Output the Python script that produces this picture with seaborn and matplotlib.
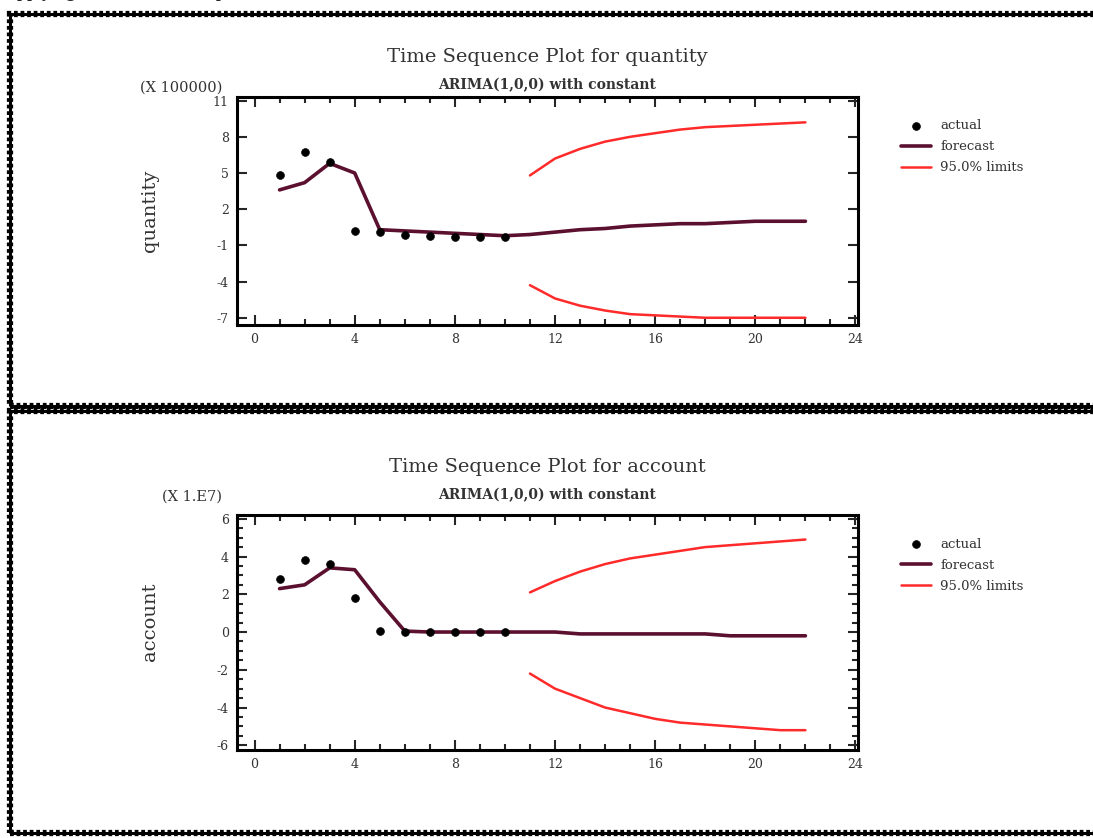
import matplotlib
matplotlib.use("Agg")
import matplotlib.pyplot as plt
from matplotlib.patches import Rectangle
from matplotlib.ticker import MultipleLocator
import seaborn as sns
import numpy as np
import pandas as pd

# quantity panel (units of 100000)
q_t_actual = [1, 2, 3, 4, 5, 6, 7, 8, 9, 10]
q_actual = [4.8, 6.7, 5.9, 0.2, 0.1, -0.1, -0.2, -0.3, -0.3, -0.3]
q_t_fc = [1, 2, 3, 4, 5, 6, 7, 8, 9, 10, 11, 12, 13, 14, 15, 16, 17, 18, 19, 20, 21, 22]
q_fc = [3.6, 4.2, 5.8, 5.0, 0.3, 0.2, 0.1, 0.0, -0.1, -0.2, -0.1, 0.1, 0.3, 0.4, 0.6, 0.7, 0.8, 0.8, 0.9, 1.0, 1.0, 1.0]
q_t_lim = [11, 12, 13, 14, 15, 16, 17, 18, 19, 20, 21, 22]
q_upper = [4.8, 6.2, 7.0, 7.6, 8.0, 8.3, 8.6, 8.8, 8.9, 9.0, 9.1, 9.2]
q_lower = [-4.3, -5.4, -6.0, -6.4, -6.7, -6.8, -6.9, -7.0, -7.0, -7.0, -7.0, -7.0]

# account panel (units of 1E7)
a_t_actual = [1, 2, 3, 4, 5, 6, 7, 8, 9, 10]
a_actual = [2.8, 3.8, 3.6, 1.8, 0.05, 0.0, 0.0, 0.0, 0.0, 0.0]
a_t_fc = [1, 2, 3, 4, 5, 6, 7, 8, 9, 10, 11, 12, 13, 14, 15, 16, 17, 18, 19, 20, 21, 22]
a_fc = [2.3, 2.5, 3.4, 3.3, 1.6, 0.05, 0.0, 0.0, 0.0, 0.0, 0.0, 0.0, -0.1, -0.1, -0.1, -0.1, -0.1, -0.1, -0.2, -0.2, -0.2, -0.2]
a_t_lim = [11, 12, 13, 14, 15, 16, 17, 18, 19, 20, 21, 22]
a_upper = [2.1, 2.7, 3.2, 3.6, 3.9, 4.1, 4.3, 4.5, 4.6, 4.7, 4.8, 4.9]
a_lower = [-2.2, -3.0, -3.5, -4.0, -4.3, -4.6, -4.8, -4.9, -5.0, -5.1, -5.2, -5.2]

x_ticks = [0, 4, 8, 12, 16, 20, 24]

sns.set_style("ticks")
plt.rcParams['font.family'] = ['DejaVu Serif']
plt.rcParams['axes.unicode_minus'] = False

fc_color = "#5c1030"
lim_color = "#ff2a2a"
txt_color = "#333333"

fig = plt.figure(figsize=(10.93, 8.38), dpi=100)

# clipped heading from the page above (only the descenders show)
fig.text(0.004, 1.003, "Applying ARIMA model to predict the", fontsize=13,
         fontweight="bold", va="baseline", ha="left", family="Liberation Serif")

# dotted panel borders
for (y0, y1) in [(14, 406), (411, 833)]:
    for lw, ls in [(2.2, "-"), (4.5, (0, (0.6, 0.45)))]:
        fig.patches.append(Rectangle((10 / 1093, 1 - y1 / 838), 1.2, (y1 - y0) / 838,
                                     transform=fig.transFigure, fill=False,
                                     edgecolor="black", linewidth=lw, linestyle=ls))


def draw_panel(rect, t_act, act, t_fc, fc, t_lim, up, lo, ylim, yticks, yminor,
               title, mult, ylabel, title_y, sub_y, mult_y, ylabel_y):
    ax = fig.add_axes(rect)
    sns.lineplot(x=t_lim, y=up, ax=ax, color=lim_color, linewidth=1.8, label="95.0% limits")
    sns.lineplot(x=t_lim, y=lo, ax=ax, color=lim_color, linewidth=1.8)
    sns.lineplot(x=t_fc, y=fc, ax=ax, color=fc_color, linewidth=2.6, label="forecast")
    sns.scatterplot(x=t_act, y=act, ax=ax, color="black", s=32, edgecolor="black",
                    zorder=5, label="actual")
    ax.set_xlim(-0.7, 24.1)
    ax.set_ylim(*ylim)
    ax.set_xticks(x_ticks)
    ax.set_yticks(yticks)
    ax.xaxis.set_minor_locator(MultipleLocator(1))
    if yminor:
        ax.yaxis.set_minor_locator(MultipleLocator(yminor))
    ax.tick_params(which="both", direction="in", top=True, right=True, width=1.5,
                   labelsize=9, pad=6, labelcolor=txt_color)
    ax.tick_params(which="major", length=7)
    ax.tick_params(which="minor", length=4)
    for s in ax.spines.values():
        s.set_linewidth(2.2)
        s.set_color("black")
    ax.set_xlabel("")
    ax.set_ylabel("")
    h, l = ax.get_legend_handles_labels()
    order = [l.index("actual"), l.index("forecast"), l.index("95.0% limits")]
    ax.legend([h[i] for i in order], [l[i] for i in order], loc="upper left",
              bbox_to_anchor=(1.06, 0.925), frameon=False, fontsize=9.5,
              handlelength=2.3, handletextpad=0.7, labelspacing=0.6,
              borderaxespad=0, labelcolor=txt_color)
    cx = rect[0] + rect[2] / 2
    fig.text(cx, 1 - title_y / 838, title, ha="center", va="center", fontsize=14,
             color=txt_color)
    fig.text(cx, 1 - sub_y / 838, "ARIMA(1,0,0) with constant", ha="center",
             va="center", fontsize=10, fontweight="bold", color=txt_color)
    fig.text(222 / 1093, 1 - mult_y / 838, mult, ha="right", va="center",
             fontsize=10.5, color=txt_color)
    fig.text(150 / 1093, 1 - ylabel_y / 838, ylabel, ha="center", va="center",
             rotation=90, fontsize=14, color=txt_color)
    return ax


draw_panel([237 / 1093, 1 - 325 / 838, 621 / 1093, 228 / 838],
           q_t_actual, q_actual, q_t_fc, q_fc, q_t_lim, q_upper, q_lower,
           (-7.6, 11.3), [-7, -4, -1, 2, 5, 8, 11], None,
           "Time Sequence Plot for quantity", "(X 100000)", "quantity",
           57, 85, 88, 211)

draw_panel([237 / 1093, 1 - 750 / 838, 621 / 1093, 235 / 838],
           a_t_actual, a_actual, a_t_fc, a_fc, a_t_lim, a_upper, a_lower,
           (-6.25, 6.2), [-6, -4, -2, 0, 2, 4, 6], 0.5,
           "Time Sequence Plot for account", "(X 1.E7)", "account",
           467, 495, 497, 622)

fig.savefig("out.png", dpi=100)
